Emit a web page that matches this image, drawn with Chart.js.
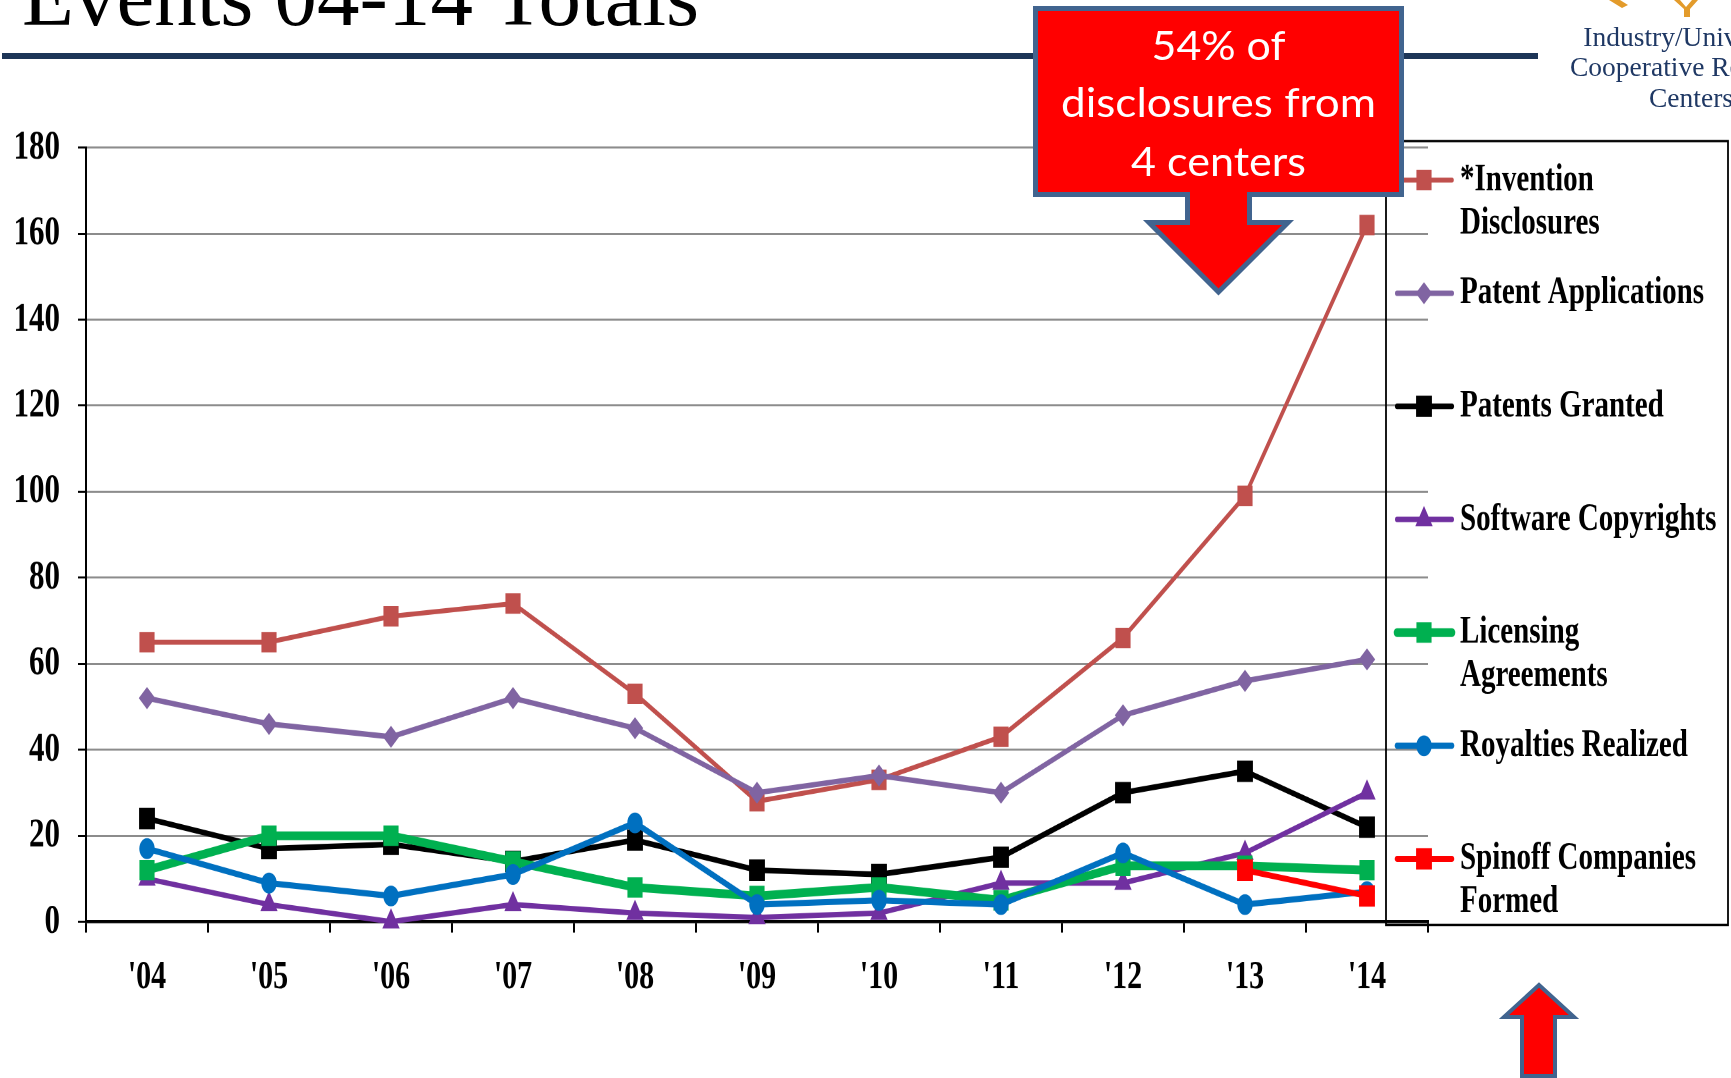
<!DOCTYPE html>
<html>
<head>
<meta charset="utf-8">
<script src="https://cdn.jsdelivr.net/npm/chart.js@4.4.1/dist/chart.umd.min.js"></script>
<style>
html, body { margin:0; padding:0; background:#ffffff; width:1731px; height:1078px; overflow:hidden; }
#wrap { position:absolute; left:0; top:110px; width:1731px; height:680px; transform:scaleY(1.35); transform-origin:0 0; }
#overlay { position:absolute; left:0; top:0; }
</style>
</head>
<body>
<div id="wrap"><canvas id="c" width="1731" height="680"></canvas></div>
<svg id="overlay" width="1731" height="1078" xmlns="http://www.w3.org/2000/svg">
  <text x="22" y="25" font-family="Liberation Serif, Times New Roman, serif" font-size="85" fill="#000">Events 04-14 Totals</text>
  <rect x="2" y="53" width="1536" height="6" fill="#1D3557"/>
  <!-- logo fragments -->
  <path d="M1609,0 L1620,0 L1628,5 L1622,8 Z" fill="#E39B2B"/>
  <path d="M1674,0 L1680,0 L1686,7 L1692,0 L1698,0 L1690,9 L1690,17 L1684,17 L1684,9 Z" fill="#E39B2B"/>
  <g font-family="Liberation Serif, Times New Roman, serif" font-size="27.5" fill="#1F3864" text-anchor="middle">
    <text x="1691" y="46">Industry/University</text>
    <text x="1691" y="76">Cooperative Research</text>
    <text x="1691" y="107">Centers</text>
  </g>
  <!-- callout -->
  <path d="M1035.5,8.5 H1401.5 V194.5 H1249.5 V222.5 H1288 L1218.5,292 L1149,222.5 H1187.5 V194.5 H1035.5 Z" fill="#FF0000" stroke="#41648F" stroke-width="5" stroke-linejoin="miter"/>
  <g font-family="Lato, 'Open Sans', sans-serif" font-size="41" fill="#FFFFFF" text-anchor="middle">
    <text x="1218.5" y="60" textLength="134" lengthAdjust="spacingAndGlyphs">54% of</text>
    <text x="1218.5" y="117" textLength="315" lengthAdjust="spacingAndGlyphs">disclosures from</text>
    <text x="1218.5" y="176" textLength="175" lengthAdjust="spacingAndGlyphs">4 centers</text>
  </g>
  <!-- bottom up arrow -->
  <path d="M1539,985 L1574,1017 H1555 V1076 H1522 V1017 H1504 Z" fill="#FF0000" stroke="#41648F" stroke-width="4" stroke-linejoin="miter"/>
</svg>
<script>
// ---- data ----
const years = ["'04", "'05", "'06", "'07", "'08", "'09", "'10", "'11", "'12", "'13", "'14"];
const inventionDisclosures = [65, 65, 71, 74, 53, 28, 33, 43, 66, 99, 162];
const patentApplications   = [52, 46, 43, 52, 45, 30, 34, 30, 48, 56, 61];
const patentsGranted       = [24, 17, 18, 14, 19, 12, 11, 15, 30, 35, 22];
const softwareCopyrights   = [10, 4, 0, 4, 2, 1, 2, 9, 9, 16, 30];
const licensingAgreements  = [12, 20, 20, 14, 8, 6, 8, 5, 13, 13, 12];
const royaltiesRealized    = [17, 9, 6, 11, 23, 4, 5, 4, 16, 4, 7];
const spinoffCompanies     = [null, null, null, null, null, null, null, null, null, 12, 6];
const seriesNames = ["*Invention Disclosures", "Patent Applications", "Patents Granted", "Software Copyrights", "Licensing Agreements", "Royalties Realized", "Spinoff Companies Formed"];
const legendLines = [["*Invention", "Disclosures"], ["Patent Applications"], ["Patents Granted"], ["Software Copyrights"], ["Licensing", "Agreements"], ["Royalties Realized"], ["Spinoff Companies", "Formed"]];
const yMin = 0, yMax = 180, yStep = 20;

// ---- styles ----
const seriesData = [inventionDisclosures, patentApplications, patentsGranted, softwareCopyrights, licensingAgreements, royaltiesRealized, spinoffCompanies];
const colors = ['#C0504D', '#8064A2', '#000000', '#7030A0', '#00B050', '#0070C0', '#FF0000'];
const styles = ['rect', 'rectRot', 'rect', 'triangle', 'rect', 'circle', 'rect'];
const radii = [10, 7.5, 10.5, 9, 10, 7.2, 10.5];
const widths = [3.6, 4, 4.2, 4, 6.5, 4.6, 4.5];

const datasets = seriesData.map((d, i) => ({
  label: seriesNames[i],
  data: d,
  borderColor: colors[i],
  backgroundColor: colors[i],
  pointBackgroundColor: colors[i],
  pointBorderColor: colors[i],
  pointBorderWidth: 1,
  pointStyle: styles[i],
  pointRadius: radii[i],
  borderWidth: widths[i],
  tension: 0,
  spanGaps: false,
  clip: false,
  order: 7 - i
}));

const LEG = { left: 1386, top: 23, right: 1728, bottom: 603.7, lineX0: 1397, lineX1: 1452, markX: 1424, textX: 1460, firstY: 51.9, step: 83.8, lineGap: 31.9 };

function fallbackPoint(ctx, style, r, x, y) {
  ctx.beginPath();
  if (style === 'circle') ctx.arc(x, y, r, 0, Math.PI * 2);
  else if (style === 'rect') { const s = r * Math.SQRT1_2; ctx.rect(x - s, y - s, 2 * s, 2 * s); }
  else if (style === 'rectRot') { ctx.moveTo(x - r, y); ctx.lineTo(x, y - r); ctx.lineTo(x + r, y); ctx.lineTo(x, y + r); ctx.closePath(); }
  else if (style === 'triangle') { ctx.moveTo(x, y - r); ctx.lineTo(x + r * 0.866, y + r / 2); ctx.lineTo(x - r * 0.866, y + r / 2); ctx.closePath(); }
  ctx.fill(); ctx.stroke();
}

const sideLegend = {
  id: 'sideLegend',
  afterDraw(chart) {
    const ctx = chart.ctx;
    ctx.save();
    ctx.strokeStyle = '#000';
    ctx.lineWidth = 1.8;
    ctx.strokeRect(LEG.left, LEG.top, LEG.right - LEG.left, LEG.bottom - LEG.top);
    chart.data.datasets.forEach((ds, i) => {
      const y = LEG.firstY + i * LEG.step;
      ctx.strokeStyle = ds.borderColor;
      ctx.lineWidth = ds.borderWidth;
      ctx.lineCap = 'round';
      ctx.beginPath(); ctx.moveTo(LEG.lineX0, y); ctx.lineTo(LEG.lineX1, y); ctx.stroke();
      ctx.fillStyle = ds.pointBackgroundColor;
      ctx.strokeStyle = ds.pointBorderColor;
      ctx.lineWidth = 1;
      if (Chart.helpers && Chart.helpers.drawPoint) {
        Chart.helpers.drawPoint(ctx, { pointStyle: ds.pointStyle, radius: ds.pointRadius, rotation: 0, borderWidth: 1 }, LEG.markX, y);
      } else {
        fallbackPoint(ctx, ds.pointStyle, ds.pointRadius, LEG.markX, y);
      }
      ctx.fillStyle = '#000';
      ctx.font = 'bold 29px "Liberation Serif", "Times New Roman", serif';
      ctx.textAlign = 'left';
      ctx.textBaseline = 'middle';
      legendLines[i].forEach((t, j) => ctx.fillText(t, LEG.textX, y + j * LEG.lineGap));
    });
    ctx.restore();
  }
};

Chart.defaults.font.family = '"Liberation Serif", "Times New Roman", serif';
Chart.defaults.color = '#000';

new Chart(document.getElementById('c'), {
  type: 'line',
  data: { labels: years, datasets: datasets },
  options: {
    responsive: false,
    maintainAspectRatio: false,
    animation: false,
    devicePixelRatio: 2,
    events: [],
    layout: { padding: { top: 27.8, bottom: 0, left: 0, right: 303 } },
    plugins: { legend: { display: false }, tooltip: { enabled: false }, title: { display: false } },
    scales: {
      x: {
        type: 'category',
        offset: true,
        grid: { offset: true, drawOnChartArea: false, drawTicks: true, tickLength: 8, color: '#000', lineWidth: 2 },
        border: { display: true, color: '#000', width: 2.4 },
        ticks: { font: { size: 30, weight: 'bold' }, color: '#000', padding: 15.5, maxRotation: 0, autoSkip: false },
        afterFit: (s) => { s.height = 680 - 601.3; s.paddingLeft = 0; s.paddingRight = 0; }
      },
      y: {
        min: yMin, max: yMax,
        ticks: { stepSize: yStep, font: { size: 31, weight: 'bold' }, color: '#000', padding: 18 },
        grid: { color: '#8C8C8C', lineWidth: 1.5, drawTicks: true, tickLength: 8, tickColor: '#000' },
        border: { display: true, color: '#000', width: 2 },
        afterFit: (s) => { s.width = 86; s.paddingTop = 0; s.paddingBottom = 0; }
      }
    }
  },
  plugins: [sideLegend]
});
</script>
</body>
</html>
